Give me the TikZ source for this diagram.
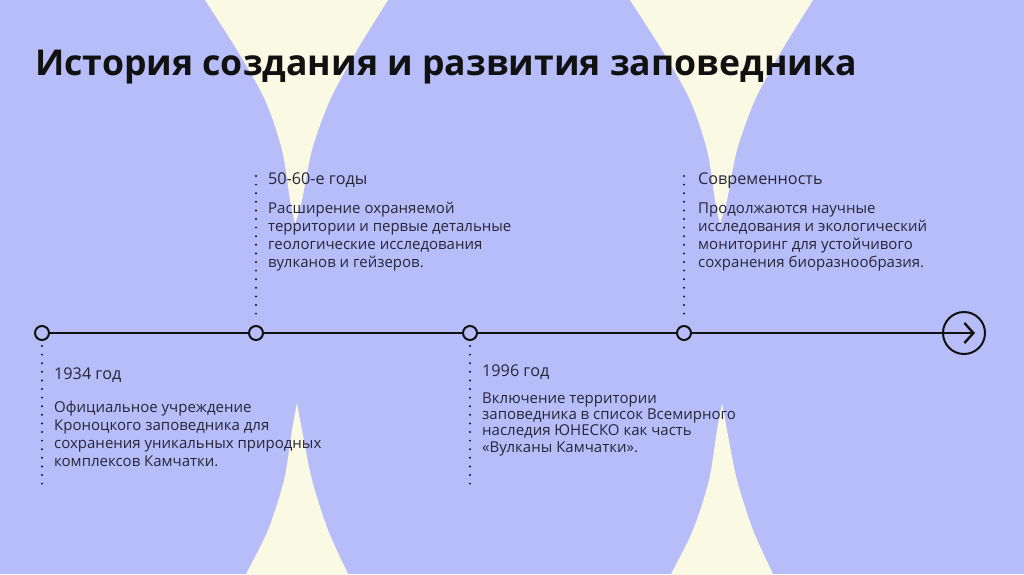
\documentclass[tikz,border=0pt]{standalone}
\usepackage{fontspec}
\setmainfont{Open Sans}
\usetikzlibrary{arrows.meta}
\definecolor{lav}{HTML}{B7BDF9}
\definecolor{cream}{HTML}{FAF9E3}
\definecolor{ink}{HTML}{111111}
\definecolor{bodyink}{HTML}{262638}
\tikzset{
  dot/.style={circle, draw=ink, line width=2pt, fill=lav, minimum size=14pt, inner sep=0pt},
  endcirc/.style={circle, draw=ink, line width=2pt, minimum size=42pt, inner sep=0pt},
  tline/.style={draw=ink, line width=2.4pt},
  dots/.style={draw=ink, line width=2.2pt, line cap=round, dash pattern=on 0pt off 8.6pt},
  head/.style={anchor=base west, inner sep=0pt, text=bodyink, font=\fontsize{16.2}{20}\selectfont},
  body/.style={anchor=base west, inner sep=0pt, text=bodyink, font=\fontsize{15}{18.3}\selectfont},
  bodyb/.style={body, font=\fontsize{15}{16.4}\selectfont},
  titlest/.style={anchor=base west, inner sep=0pt, text=ink, font=\fontsize{35.6}{44}\selectfont\bfseries}
}
\begin{document}
\begin{tikzpicture}[x=1pt,y=-1pt]
\useasboundingbox (0,0) rectangle (1024,574);
\fill[lav] (0,0) rectangle (1024,574);
% cream shapes
\foreach \dx in {0,425}{
  \begin{scope}[xshift=\dx pt]
  \fill[cream] plot[smooth] coordinates {(203,-4) (205,0) (237,50) (265,100) (282,150) (290,200) (295,224)}
     -- plot[smooth] coordinates {(295,224) (302,200) (312,150) (330,100) (357,50) (388,0) (390,-4)} -- cycle;
  \fill[cream] plot[smooth] coordinates {(297,403) (292,430) (284,480) (268,530) (246,574) (244,578)}
     -- plot[smooth] coordinates {(350,578) (348,574) (328,530) (312,480) (302,430) (297,403)} -- cycle;
  \end{scope}
}
% title
\node[titlest] (title) at (35,75) {История создания и развития заповедника};
% dotted leaders
\coordinate (d1a) at (42,346); \coordinate (d1b) at (42,485);
\coordinate (d2a) at (256,176); \coordinate (d2b) at (256,318);
\coordinate (d3a) at (470,346); \coordinate (d3b) at (470,485);
\coordinate (d4a) at (684,176); \coordinate (d4b) at (684,318);
\draw[dots] (d1a) -- (d1b);
\draw[dots] (d2a) -- (d2b);
\draw[dots] (d3a) -- (d3b);
\draw[dots] (d4a) -- (d4b);
% timeline
\node[dot] (c1) at (42,333) {};
\node[dot] (c2) at (256,333) {};
\node[dot] (c3) at (470,333) {};
\node[dot] (c4) at (684,333) {};
\node[endcirc] (ce) at (964,333) {};
\coordinate (tip) at (975,333);
\draw[tline] (c1) -- (c2);
\draw[tline] (c2) -- (c3);
\draw[tline] (c3) -- (c4);
\draw[tline, -{Straight Barb[length=9pt,width=20pt]}] (c4) -- (tip);
% texts
\node[head] (h1) at (54,379) {1934 год};
\node[body] (b1) at (54,412) {\parbox[t]{330pt}{\raggedright Официальное учреждение\\Кроноцкого заповедника для\\сохранения уникальных природных\\комплексов Камчатки.}};
\node[head] (h2) at (268,184) {50-60-е годы};
\node[body] (b2) at (268,213) {\parbox[t]{330pt}{\raggedright Расширение охраняемой\\территории и первые детальные\\геологические исследования\\вулканов и гейзеров.}};
\node[head] (h3) at (482,376) {1996 год};
\node[bodyb] (b3) at (482,403) {\parbox[t]{330pt}{\raggedright Включение территории\\заповедника в список Всемирного\\наследия ЮНЕСКО как часть\\«Вулканы Камчатки».}};
\node[head] (h4) at (698,184) {Современность};
\node[body] (b4) at (698,213) {\parbox[t]{330pt}{\raggedright Продолжаются научные\\исследования и экологический\\мониторинг для устойчивого\\сохранения биоразнообразия.}};
\end{tikzpicture}
\end{document}
